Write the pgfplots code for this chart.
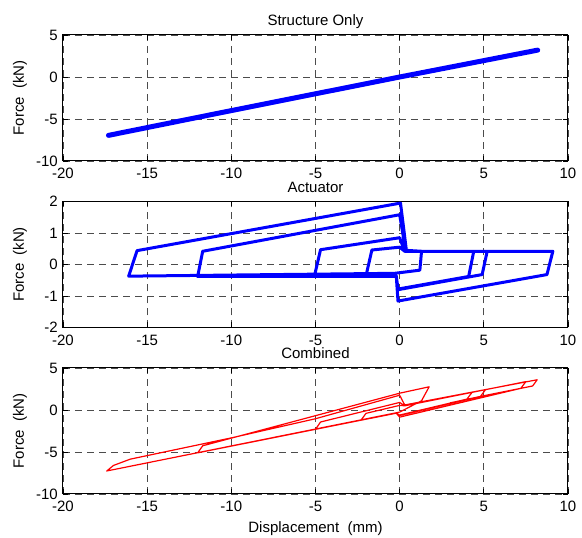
\documentclass[border=0pt]{standalone}
\usepackage{pgfplots}
\pgfplotsset{compat=1.18}
\usepackage{fontspec}
\setmainfont{Liberation Sans}
\begin{document}
\fontsize{15}{18}\selectfont
\begin{tikzpicture}
\useasboundingbox (0pt,0pt) rectangle (582pt,538pt);
\pgfplotsset{
  mystyle/.style={
    scale only axis, width=505pt, height=126pt,
    xmin=-20, xmax=10,
    xtick={-20,-15,...,10},
    tick align=inside, major tick length=5pt,
    axis line style={line width=1pt},
    every tick/.style={black, line width=0.8pt},
    grid=major,
    major grid style={black!70, line width=0.8pt, dash pattern=on 7pt off 5pt},
    /pgf/number format/assume math mode=true,
    tick label style={font=\fontsize{15}{18}\selectfont},
    xticklabel style={yshift=-2pt},
    every axis title/.style={at={(axis description cs:0.5,1)}, anchor=base, yshift=9pt, font=\fontsize{15}{18}\selectfont},
    every axis y label/.style={at={(axis description cs:-0.085,0.5)}, rotate=90, anchor=center, font=\fontsize{15}{18}\selectfont},
    every axis x label/.style={at={(axis description cs:0.5,0)}, anchor=base, yshift=-38.5pt, font=\fontsize{15}{18}\selectfont},
    ylabel={Force\ \ (kN)},
  }
}
\begin{axis}[mystyle, at={(63pt,377pt)}, anchor=south west,
  title={Structure Only}, ymin=-10, ymax=5, ytick={-10,-5,0,5}]
\addplot[blue, line width=5pt, line cap=round] coordinates {(-17.3,-6.95) (-10,-4.0) (0,0.0) (8.2,3.2)};
\end{axis}
\begin{axis}[mystyle, at={(63pt,210.5pt)}, anchor=south west,
  title={Actuator}, ymin=-2, ymax=2, ytick={-2,-1,0,1,2}]
\addplot[blue, line width=3pt, line join=round] coordinates {
(0.3,0.42) (4.4,0.42) (4.1,-0.38) (-0.1,-0.78) (-0.2,-0.36) (-2.0,-0.36) (-1.65,0.46) (0,0.55) (0.3,0.42)
(5.2,0.42) (4.9,-0.32) (-0.1,-0.80) (-0.2,-0.36) (-5.06,-0.36) (-4.7,0.47) (0,0.85) (0.3,0.42)
(9.1,0.42) (8.75,-0.32) (-0.1,-1.16) (-0.2,-0.38) (-12,-0.38) (-11.7,0.42) (0,1.58) (0.35,0.45)
(1.3,0.42) (1.2,-0.18) (-0.3,-0.28) (-16.1,-0.37) (-15.6,0.44) (0.05,1.95) (0.4,0.45) (1.0,0.42)
};
\end{axis}
\begin{axis}[mystyle, at={(63pt,44pt)}, anchor=south west,
  title={Combined}, ymin=-10, ymax=5, ytick={-10,-5,0,5},
  xlabel={Displacement\ \ (mm)}]
\addplot[red, line width=1.2pt, line join=round] coordinates {
(0.3,0.50) (4.3,2.10) (4.0,1.30) (0,-0.60) (-0.2,-0.38) (-2.3,-1.22) (-2.0,-0.40) (0,0.55) (0.3,0.50)
(5.1,2.42) (4.8,1.62) (0,-0.65) (-0.2,-0.38) (-5.0,-2.30) (-4.7,-1.43) (0,0.90) (0.3,0.50)
(7.5,3.38) (7.2,2.58) (0,-0.85) (-0.2,-0.38) (-12.0,-5.10) (-11.7,-4.26) (0,2.00) (1.75,2.76)
(1.3,1.10) (0,-0.25) (-17.4,-7.26) (-17.0,-6.60) (-16.0,-5.85) (-10,-3.32) (-5,-1.04) (0,1.76)
(0.3,0.60) (8.17,3.60) (7.9,2.86) (5.0,1.70) (3.0,0.85)
};
\end{axis}
\end{tikzpicture}
\end{document}
